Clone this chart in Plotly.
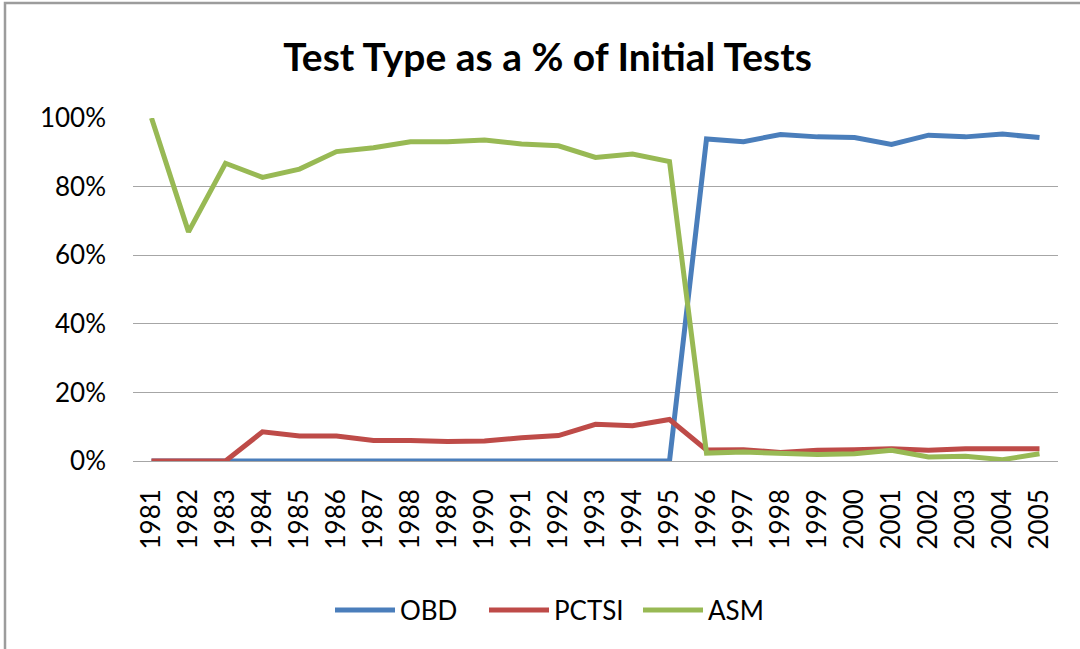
import plotly.graph_objects as go

years = ["1981", "1982", "1983", "1984", "1985", "1986", "1987", "1988", "1989", "1990",
         "1991", "1992", "1993", "1994", "1995", "1996", "1997", "1998", "1999", "2000",
         "2001", "2002", "2003", "2004", "2005"]
obd = [0, 0, 0, 0, 0, 0, 0, 0, 0, 0, 0, 0, 0, 0, 0,
       93.9, 93.1, 95.2, 94.5, 94.3, 92.3, 95.0, 94.5, 95.3, 94.3]
pctsi = [0, 0, 0, 8.5, 7.3, 7.3, 6.0, 6.0, 5.7, 5.8, 6.8, 7.4, 10.7, 10.3, 12.1,
         3.2, 3.3, 2.5, 3.1, 3.3, 3.6, 3.1, 3.6, 3.6, 3.6]
asm = [100, 66.8, 86.8, 82.7, 85.1, 90.2, 91.3, 93.1, 93.1, 93.6, 92.4, 91.9, 88.5, 89.5, 87.3,
       2.3, 2.6, 2.3, 1.9, 2.1, 3.1, 1.2, 1.4, 0.4, 2.1]

series = [("OBD", obd, "#4A7EBB"), ("PCTSI", pctsi, "#BE4B48"), ("ASM", asm, "#98B954")]

FONT = "Lato"
fig = go.Figure()
for name, vals, col in series:
    fig.add_trace(go.Scatter(x=years, y=[v / 100 for v in vals], name=name, mode="lines",
                             line=dict(color=col, width=5)))

W, H = 1080, 649
ml, mr, mt, mb = 133, 22, 118, 188
pw, ph = W - ml - mr, H - mt - mb

def px2paper_x(px):
    return (px - ml) / pw

def px2paper_y(py):
    return (H - mb - py) / ph

fig.update_layout(
    width=W, height=H,
    margin=dict(l=ml, r=mr, t=mt, b=mb),
    paper_bgcolor="white", plot_bgcolor="white",
    font=dict(family=FONT, size=26, color="#000000"),
    title=dict(text="<b>Test Type as a % of Initial Tests</b>", x=547.5 / W, xanchor="center",
               y=1 - 57 / H, yanchor="middle", font=dict(family=FONT, size=39, color="#000000")),
    showlegend=True,
    legend=dict(orientation="h", x=px2paper_x(338 - 8), xanchor="left",
                y=px2paper_y(610), yanchor="middle",
                font=dict(family=FONT, size=26), itemwidth=60, entrywidth=79,
                entrywidthmode="pixels"),
    xaxis=dict(type="category", range=[-0.5, 24.5], tickangle=-90, showgrid=False,
               showline=False, ticks="", tickfont=dict(size=26), ticklabelstandoff=22),
    yaxis=dict(range=[0, 1], tickformat=".0%", dtick=0.2, showgrid=True, gridcolor="#A6A6A6",
               gridwidth=1.2, zeroline=True, zerolinecolor="#A6A6A6", zerolinewidth=1.2,
               showline=False, ticks="", tickfont=dict(size=26), ticklabelstandoff=26),
    shapes=[dict(type="rect", xref="paper", yref="paper",
                 x0=px2paper_x(5), x1=px2paper_x(1200), y0=px2paper_y(800), y1=px2paper_y(3),
                 line=dict(color="#9C9C9C", width=2.5), fillcolor="rgba(0,0,0,0)", layer="below")],
)

fig.write_html("out.html", config={"displayModeBar": False},
               post_script="document.body.style.margin='0';document.body.style.overflow='hidden';")
